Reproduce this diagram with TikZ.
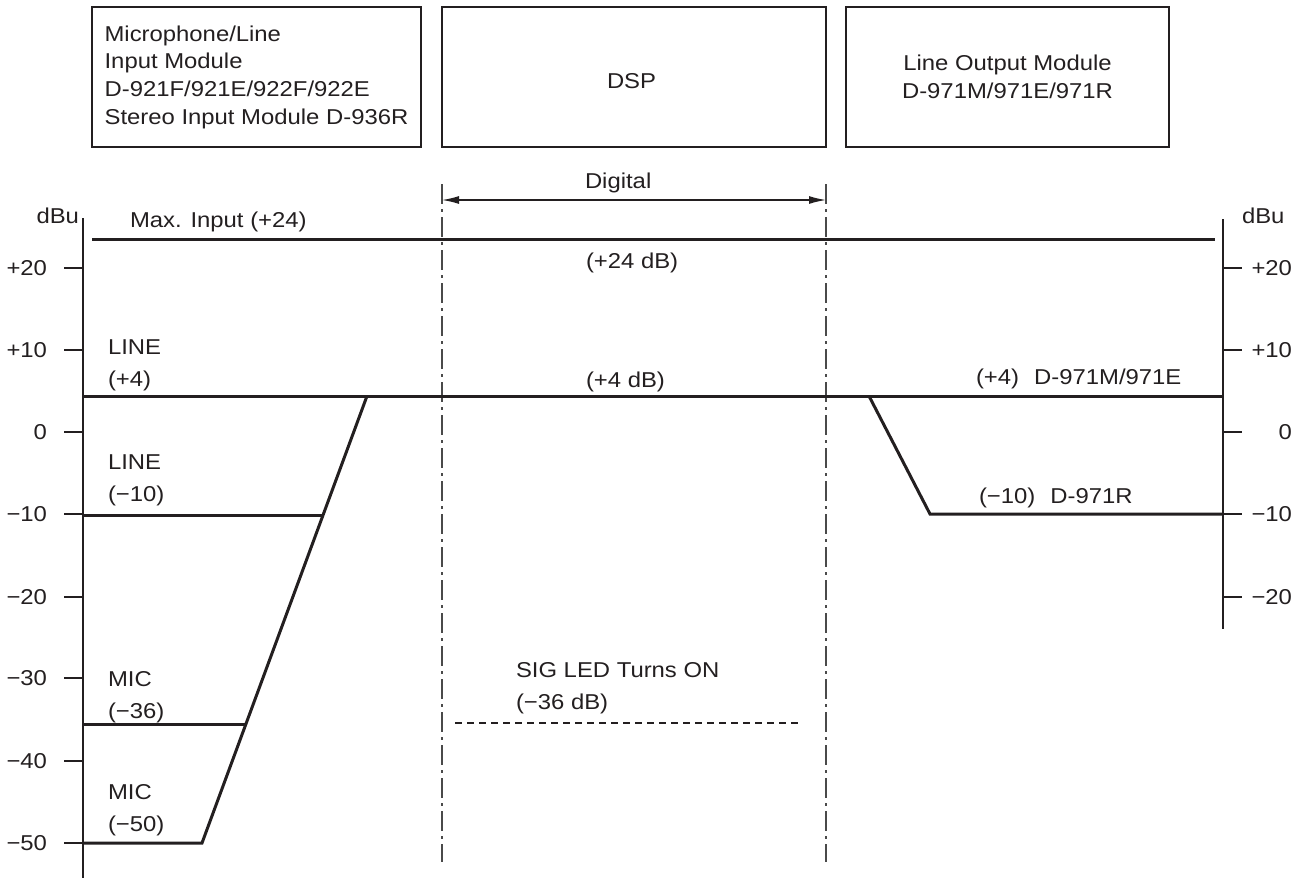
\documentclass[tikz,border=0pt]{standalone}
\usepackage{fontspec}
\setmainfont{Liberation Sans}[FakeStretch=1.11]
\usetikzlibrary{arrows.meta}
\definecolor{ink}{HTML}{231F20}
\definecolor{dashgray}{HTML}{4A4A4A}
\begin{document}
\begin{tikzpicture}[x=1pt,y=-1pt,
  every node/.style={inner sep=0pt, outer sep=0pt, text=ink, font=\fontsize{21.5}{27.7}\selectfont},
  modbox/.style={draw=ink, line width=1.5pt, minimum height=140pt},
  axisline/.style={draw=ink, line width=1.6pt},
  sigline/.style={draw=ink, line width=3pt, line join=miter},
  zoneline/.style={draw=dashgray, line width=1.7pt, dash pattern=on 20pt off 5pt on 3pt off 5pt},
  ledline/.style={draw=ink, line width=1.4pt, dash pattern=on 7pt off 5pt},
  lbl/.style={anchor=base west},
  lblR/.style={anchor=base east}]
\useasboundingbox (0,0) rectangle (1306,879);

% module boxes
\node[modbox, minimum width=329pt, align=left] (inmod) at (256.5,77)
  {Microphone/Line\\Input Module\\D-921F/921E/922F/922E\\Stereo Input Module D-936R};
\node[modbox, minimum width=384pt] (dsp) at (634,77) {};
\node[lbl] (dsptxt) at (607,88) {DSP};
\node[modbox, minimum width=323pt, align=center] (outmod) at (1007.5,77)
  {Line Output Module\\D-971M/971E/971R};

% digital zone
\coordinate (zl1) at (442,184); \coordinate (zl2) at (442,862);
\coordinate (zr1) at (826,184); \coordinate (zr2) at (826,862);
\draw[zoneline] (zl1) -- (zl2);
\draw[zoneline] (zr1) -- (zr2);
\coordinate (dA) at (442,200); \coordinate (dB) at (826,200);
\draw[draw=ink, line width=1.4pt, {Latex[length=17pt,width=8pt]}-{Latex[length=17pt,width=8pt]}] (dA) -- (dB);
\node[lbl] (digital) at (585,188) {Digital};

% left axis
\coordinate (la1) at (83,218); \coordinate (la2) at (83,878);
\draw[axisline] (la1) -- (la2);
\node[lblR] (ldbu) at (79,223) {dBu};
\foreach \v/\yy in {+20/268, +10/350, 0/432, −10/514, −20/597, −30/678, −40/761, −50/843}{
  \draw[axisline] (64,\yy) -- (83,\yy);
  \node[lblR] at (47,\yy+7.5) {\v};
}

% right axis
\coordinate (ra1) at (1223,219); \coordinate (ra2) at (1223,629);
\draw[axisline] (ra1) -- (ra2);
\node[lbl] (rdbu) at (1242,223) {dBu};
\foreach \v/\yy in {+20/268, +10/350, 0/432, −10/514, −20/597}{
  \draw[axisline] (1223,\yy) -- (1242,\yy);
  \node[lblR] at (1292,\yy+7.5) {\v};
}

% signal level lines
\coordinate (mx1) at (92,239); \coordinate (mx2) at (1215,239);
\draw[sigline] (mx1) -- (mx2);
\coordinate (p4a) at (83,396); \coordinate (p4b) at (1223,396);
\draw[sigline] (p4a) -- (p4b);
\coordinate (l10a) at (83,515); \coordinate (l10b) at (322,515);
\draw[sigline] (l10a) -- (l10b);
\coordinate (m36a) at (83,724); \coordinate (m36b) at (245,724);
\draw[sigline] (m36a) -- (m36b);
\coordinate (m50a) at (83,843); \coordinate (m50b) at (202,843); \coordinate (gaintop) at (367,396);
\draw[sigline] (m50a) -- (m50b) -- (gaintop);
\coordinate (o1) at (869,396); \coordinate (o2) at (930,514); \coordinate (o3) at (1223,514);
\draw[sigline] (o1) -- (o2) -- (o3);

% SIG LED threshold
\coordinate (s1) at (455,723); \coordinate (s2) at (802,723);
\draw[ledline] (s1) -- (s2);

% labels
\node[lbl] (maxin) at (130,227) {Max. Input (+24)};
\node[lbl] (line4a) at (108,354) {LINE};
\node[lbl] (line4b) at (108,386) {(+4)};
\node[lbl] (line10a) at (108,469) {LINE};
\node[lbl] (line10b) at (108,501) {(−10)};
\node[lbl] (mic36a) at (108,686) {MIC};
\node[lbl] (mic36b) at (108,718) {(−36)};
\node[lbl] (mic50a) at (108,799) {MIC};
\node[lbl] (mic50b) at (108,831) {(−50)};
\node[lbl] (db24) at (586,268) {(+24 dB)};
\node[lbl] (db4) at (586,387) {(+4 dB)};
\node[lbl] (sig1) at (516,677) {SIG LED Turns ON};
\node[lbl] (sig2) at (516,709) {(−36 dB)};
\node[lbl] (out4) at (976,384) {(+4)\hspace{0.7em}D-971M/971E};
\node[lbl] (out10) at (979,503) {(−10)\hspace{0.7em}D-971R};
\end{tikzpicture}
\end{document}
